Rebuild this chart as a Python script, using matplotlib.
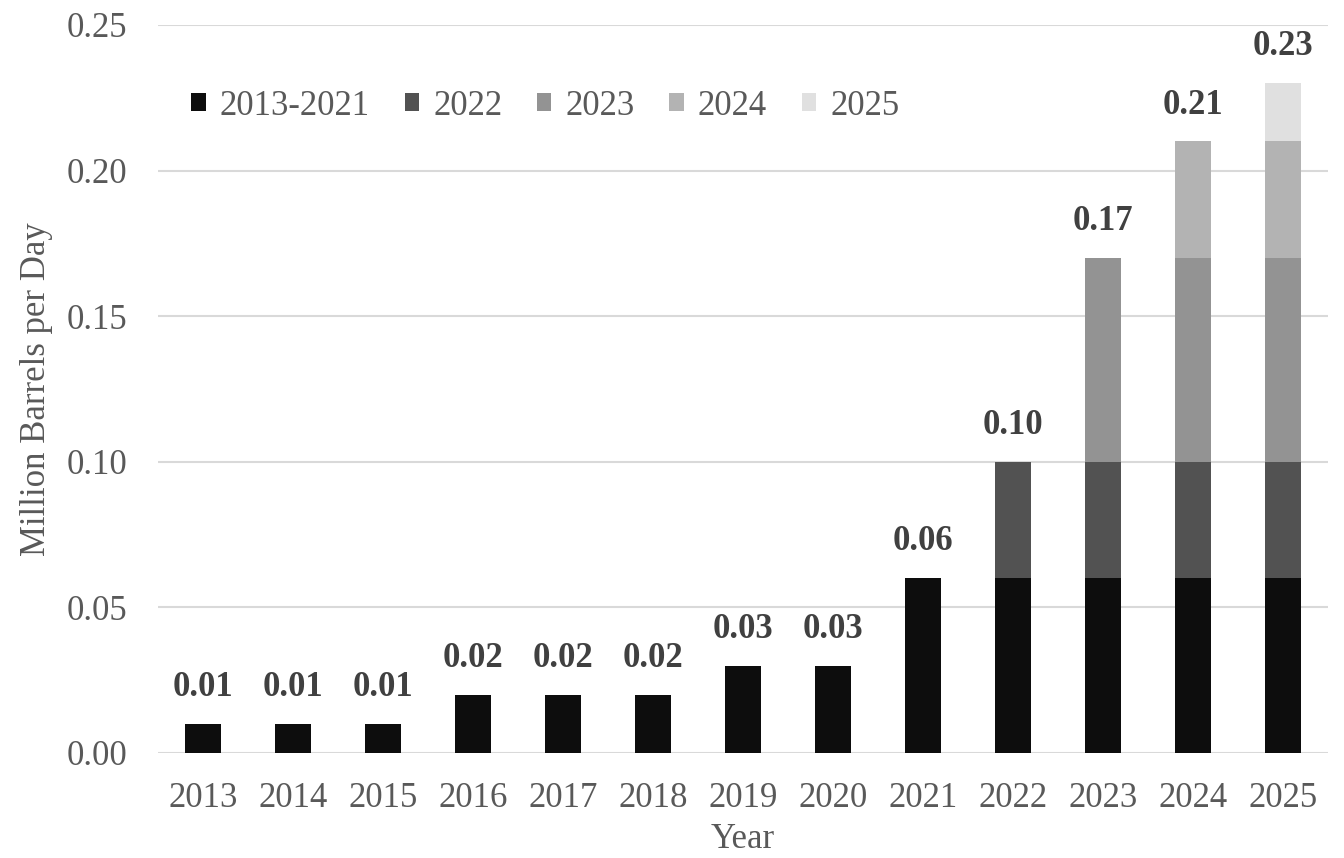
import numpy as np
import matplotlib.pyplot as plt

plt.rcParams['font.family'] = ['Liberation Serif', 'DejaVu Serif']

# data
years = ['2013', '2014', '2015', '2016', '2017', '2018', '2019',
         '2020', '2021', '2022', '2023', '2024', '2025']
seg_names = ['2013-2021', '2022', '2023', '2024', '2025']
seg_2013_2021 = [0.01, 0.01, 0.01, 0.02, 0.02, 0.02, 0.03, 0.03, 0.06, 0.06, 0.06, 0.06, 0.06]
seg_2022 = [0, 0, 0, 0, 0, 0, 0, 0, 0, 0.04, 0.04, 0.04, 0.04]
seg_2023 = [0, 0, 0, 0, 0, 0, 0, 0, 0, 0, 0.07, 0.07, 0.07]
seg_2024 = [0, 0, 0, 0, 0, 0, 0, 0, 0, 0, 0, 0.04, 0.04]
seg_2025 = [0, 0, 0, 0, 0, 0, 0, 0, 0, 0, 0, 0, 0.02]
totals = [0.01, 0.01, 0.01, 0.02, 0.02, 0.02, 0.03, 0.03, 0.06, 0.10, 0.17, 0.21, 0.23]

seg_colors = ['#0d0d0d', '#525252', '#939393', '#b3b3b3', '#e0e0e0']
text_col = '#595959'
fs = 25

fig = plt.figure(figsize=(13.44, 8.58), dpi=100)
ax = fig.add_axes([0.1176, 0.1224, 0.8705, 0.8485])

x = np.arange(len(years))
bottom = np.zeros(len(years))
for name, vals, col in zip(seg_names,
                           [seg_2013_2021, seg_2022, seg_2023, seg_2024, seg_2025],
                           seg_colors):
    vals = np.array(vals)
    ax.bar(x, vals, 0.4, bottom=bottom, color=col, label=name, zorder=3)
    bottom += vals

for xi, t in zip(x, totals):
    ax.annotate(f'{t:.2f}', (xi, t), xytext=(0, 20), textcoords='offset points',
                ha='center', va='baseline', fontsize=fs, fontweight='bold',
                color='#404040')

ax.set_xlim(-0.5, len(years) - 0.5)
ax.set_ylim(0, 0.25)
ax.set_yticks(np.arange(0, 0.251, 0.05))
ax.set_yticklabels([f'{v:.2f}' for v in np.arange(0, 0.251, 0.05)])
ax.set_xticks(x)
ax.set_xticklabels(years)
ax.tick_params(axis='both', length=0, labelsize=fs, labelcolor=text_col)
ax.tick_params(axis='y', pad=22)
ax.tick_params(axis='x', pad=21)
ax.grid(axis='y', color='#d9d9d9', linewidth=1.5, zorder=0)
for s in ax.spines.values():
    s.set_visible(False)

ax.set_ylabel('Million Barrels per Day', fontsize=fs, color=text_col, labelpad=10)
ax.set_xlabel('Year', fontsize=fs, color=text_col, labelpad=6)

ax.legend(loc='upper left', bbox_to_anchor=(0.0165, 0.93), ncol=5, frameon=False,
          fontsize=fs, labelcolor=text_col, handlelength=0.42, handleheight=0.42,
          handletextpad=0.4, columnspacing=1.0, borderaxespad=0)

fig.savefig('out.png', dpi=100)
